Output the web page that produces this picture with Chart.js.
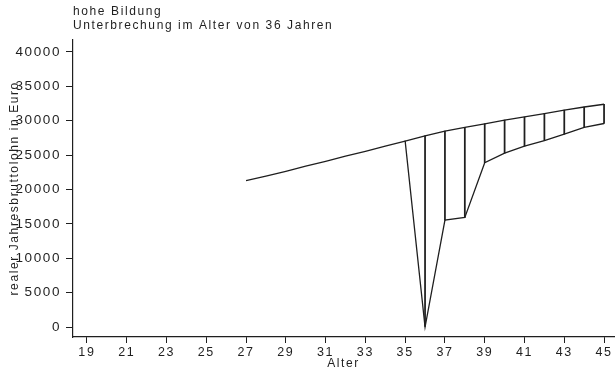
<!DOCTYPE html>
<html>
<head>
<meta charset="utf-8">
<script src="https://cdn.jsdelivr.net/npm/chart.js@4"></script>
<style>
  html, body { margin: 0; padding: 0; background: #fff; }
  #wrap { width: 615px; height: 368px; }
</style>
</head>
<body>
<div id="wrap"><canvas id="chart"></canvas></div>
<script>
  // Data
  const ages = [27, 28, 29, 30, 31, 32, 33, 34, 35, 36, 37, 38, 39, 40, 41, 42, 43, 44, 45];
  const ohneUnterbrechung = [21300, 21950, 22650, 23400, 24100, 24850, 25550, 26300, 27030, 27800, 28500, 29050, 29550, 30100, 30550, 31050, 31550, 32000, 32400];
  const agesBreak = [35, 36, 37, 38, 39, 40, 41, 42, 43, 44, 45];
  const mitUnterbrechung = [27030, 0, 15550, 15950, 23900, 25300, 26300, 27100, 28050, 29050, 29600];
  const xTicks = [19, 21, 23, 25, 27, 29, 31, 33, 35, 37, 39, 41, 43, 45];
  const yTicks = [0, 5000, 10000, 15000, 20000, 25000, 30000, 35000, 40000];

  const ink = '#1f1f1f';
  const font = { family: '"Liberation Sans", Arial, sans-serif', size: 12 };

  // difference spikes between the two lines
  const spikes = agesBreak.map((a, i) => ({ x: a, y: [mitUnterbrechung[i], ohneUnterbrechung[ages.indexOf(a)]] }));

  // Stata-like wide letter spacing
  const spacing = {
    id: 'spacing',
    beforeUpdate(chart) { chart.ctx.letterSpacing = '1.6px'; },
    beforeDraw(chart) { chart.ctx.letterSpacing = '1.6px'; }
  };

  new Chart(document.getElementById('chart'), {
    type: 'line',
    data: {
      datasets: [
        {
          label: 'ohne Unterbrechung',
          data: ages.map((a, i) => ({ x: a, y: ohneUnterbrechung[i] })),
          borderColor: ink,
          borderWidth: 1.3,
          pointRadius: 0,
          tension: 0
        },
        {
          label: 'mit Unterbrechung',
          data: agesBreak.map((a, i) => ({ x: a, y: mitUnterbrechung[i] })),
          borderColor: ink,
          borderWidth: 1.3,
          pointRadius: 0,
          tension: 0
        },
        {
          type: 'bar',
          label: 'Differenz',
          data: spikes,
          backgroundColor: ink,
          borderWidth: 0,
          barThickness: 1.1
        }
      ]
    },
    options: {
      responsive: true,
      maintainAspectRatio: false,
      animation: false,
      layout: { padding: { right: 1 } },
      plugins: {
        legend: { display: false },
        tooltip: { enabled: false },
        title: {
          display: true,
          fullSize: false,
          align: 'start',
          text: ['hohe Bildung', 'Unterbrechung im Alter von 36 Jahren'],
          color: ink,
          font: { ...font, size: 12, weight: 'normal', lineHeight: 1.15 },
          padding: { top: 5, bottom: 7 }
        }
      },
      scales: {
        x: {
          type: 'linear',
          offset: false,
          min: 18.3,
          max: 45.5,
          afterBuildTicks: s => { s.ticks = xTicks.map(v => ({ value: v })); },
          afterFit: s => { s.height = 31; },
          grid: { offset: false, drawOnChartArea: false, tickLength: 6, color: ink, tickWidth: 1 },
          border: { color: ink, width: 1.2 },
          ticks: { color: ink, font: { ...font, size: 12.5 }, padding: 2, maxRotation: 0 },
          title: { display: true, text: 'Alter', color: ink, font: { ...font, lineHeight: 0.8 }, padding: { top: 0, bottom: 0 } }
        },
        y: {
          min: -1450,
          max: 41800,
          afterBuildTicks: s => { s.ticks = yTicks.map(v => ({ value: v })); },
          afterFit: s => { s.width = 73; },
          grid: { drawOnChartArea: false, tickLength: 7, color: ink, tickWidth: 1 },
          border: { color: ink, width: 1.2 },
          ticks: { color: ink, font: { ...font, size: 13.5 }, padding: 5, callback: v => String(v) },
          title: { display: true, text: 'realer Jahresbruttolohn in Euro', color: ink, font, padding: { top: 7, bottom: 0 } }
        }
      }
    },
    plugins: [spacing]
  });
</script>
</body>
</html>
